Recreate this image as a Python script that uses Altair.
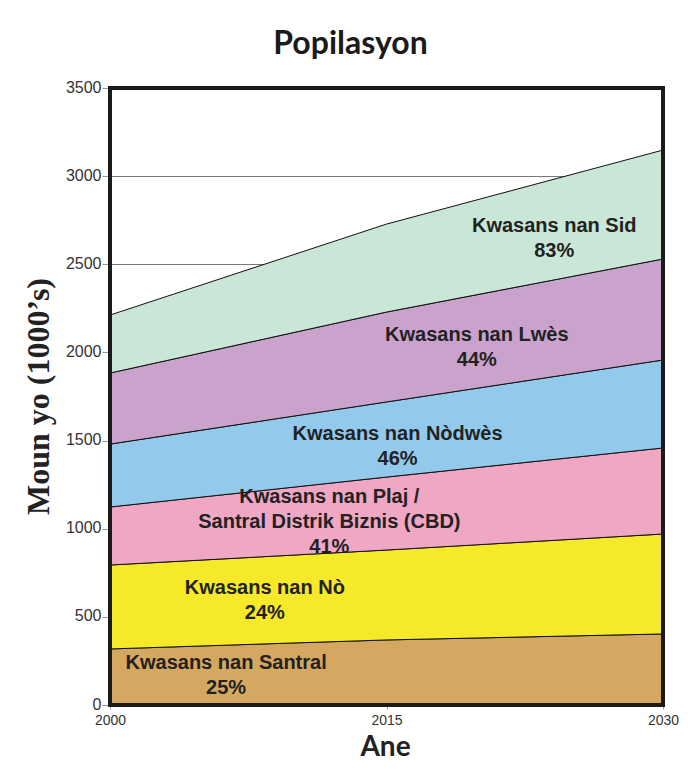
import altair as alt
import pandas as pd

years = [2000, 2015, 2030]
regions = [
    "Kwasans nan Santral",
    "Kwasans nan Nò",
    "Kwasans nan Plaj",
    "Kwasans nan Nòdwès",
    "Kwasans nan Lwès",
    "Kwasans nan Sid",
]
# population (thousands) of each region per year
santral = [318, 369, 403]
no = [476, 510, 567]
plaj = [329, 414, 488]
nodwes = [357, 426, 499]
lwes = [403, 510, 573]
sid = [329, 499, 618]
colors = ["#d5a862", "#f6e92a", "#f0a7c3", "#93caec", "#caa3cc", "#c9e6d6"]
y_ticks = [0, 500, 1000, 1500, 2000, 2500, 3000, 3500]

label_texts = [
    "Kwasans nan Santral\n25%",
    "Kwasans nan Nò\n24%",
    "Kwasans nan Plaj /\nSantral Distrik Biznis (CBD)\n41%",
    "Kwasans nan Nòdwès\n46%",
    "Kwasans nan Lwès\n44%",
    "Kwasans nan Sid\n83%",
]
label_x = [2006.3, 2008.4, 2011.9, 2015.6, 2019.9, 2024.1]
label_y = [238, 664, 1180, 1537, 2099, 2717]

series = [santral, no, plaj, nodwes, lwes, sid]
rows = []
for i, (name, vals) in enumerate(zip(regions, series)):
    for yr, v in zip(years, vals):
        rows.append({"year": yr, "region": name, "pop": v, "order": i})
df = pd.DataFrame(rows)
labels = pd.DataFrame({"text": label_texts, "x": label_x, "y": label_y})
frame = pd.DataFrame({"x": [min(years)], "x2": [max(years)],
                      "y": [min(y_ticks)], "y2": [max(y_ticks)]})

xscale = alt.Scale(domain=[min(years), max(years)], nice=False, zero=False)
yscale = alt.Scale(domain=[min(y_ticks), max(y_ticks)], nice=False)

areas = alt.Chart(df).mark_area(
    stroke="#111", strokeWidth=1, opacity=1
).encode(
    x=alt.X("year:Q", scale=xscale,
            axis=alt.Axis(values=years, format="d", title="Ane", grid=False,
                          labelFontSize=14, labelColor="#333", labelFont="Liberation Sans",
                          labelFlush=False,
                          tickSize=4, tickColor="#999", labelPadding=4,
                          titleFont="Lato", titleFontSize=28, titleFontWeight="bold",
                          titleColor="#222", titleX=275, titleY=50,
                          titleBaseline="alphabetic", titleAnchor="start",
                          titleAlign="center", domain=False)),
    y=alt.Y("pop:Q", stack="zero", scale=yscale,
            axis=alt.Axis(values=y_ticks, format="d", title="Moun yo (1000’s)",
                          grid=True, gridColor="#555", gridWidth=0.8,
                          labelFontSize=16, labelColor="#333", labelFont="Liberation Sans",
                          labelOffset=-1,
                          tickSize=8, tickColor="#999", labelPadding=1,
                          titleFont="Liberation Serif", titleFontSize=32,
                          titleFontWeight="bold", titleColor="#222",
                          titleX=-72, titleY=308, titleAngle=-90,
                          titleBaseline="middle", titleAlign="center",
                          domain=False)),
    color=alt.Color("region:N", scale=alt.Scale(domain=regions, range=colors), legend=None),
    order=alt.Order("order:Q", sort="ascending"),
)

text = alt.Chart(labels).mark_text(
    font="Liberation Sans", fontSize=20, fontWeight="bold", color="#222",
    lineBreak="\n", lineHeight=25, align="center", baseline="middle"
).encode(
    x=alt.X("x:Q", scale=xscale),
    y=alt.Y("y:Q", scale=yscale),
    text="text:N",
)

border = alt.Chart(frame).mark_rect(
    filled=False, stroke="#1a1a1a", strokeWidth=4
).encode(
    x=alt.X("x:Q", scale=xscale),
    x2="x2:Q",
    y=alt.Y("y:Q", scale=yscale),
    y2="y2:Q",
)

chart = alt.layer(areas, text, border).properties(
    width=553,
    height=617,
    title=alt.TitleParams("Popilasyon", font="Lato", fontSize=32, fontWeight="bold",
                          color="#1a1a1a", offset=18, dx=-36),
    autosize=alt.AutoSizeParams(type="none"),
    padding={"left": 102, "top": 80, "right": 17, "bottom": 56},
    background="white",
).configure_view(stroke=None)

chart.save("out.html", embed_options={"renderer": "svg", "actions": False})
